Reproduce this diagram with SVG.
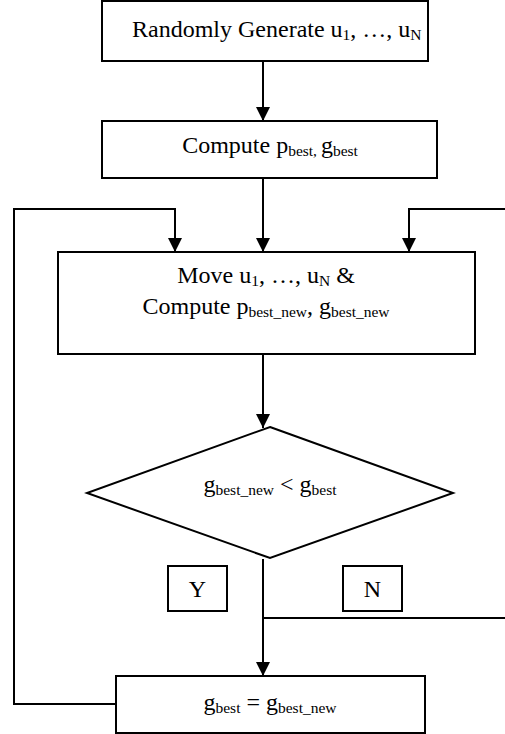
<svg xmlns="http://www.w3.org/2000/svg" width="505" height="734" viewBox="0 0 505 734">
<style>
.box{fill:#fff;stroke:#000;stroke-width:2}
.ln{fill:none;stroke:#000;stroke-width:2}
text{font-family:"Liberation Serif","Times New Roman",serif;font-size:24px;fill:#000}
.s{font-size:15.5px}
.m{text-anchor:middle}
</style>
<defs>
<marker id="ah" markerUnits="userSpaceOnUse" markerWidth="14" markerHeight="14" refX="14" refY="7" orient="auto">
<path d="M0,0 L14,7 L0,14 z" fill="#000"/>
</marker>
</defs>
<rect width="505" height="734" fill="#fff"/>
<g id="connectors">
<path class="ln" d="M263,62 V121" marker-end="url(#ah)"/>
<path class="ln" d="M263,178 V252" marker-end="url(#ah)"/>
<path class="ln" d="M116,704 H14 V209 H175 V252" marker-end="url(#ah)"/>
<path class="ln" d="M506,209 H409 V252" marker-end="url(#ah)"/>
<path class="ln" d="M263,354 V428" marker-end="url(#ah)"/>
<path class="ln" d="M263,559 V676" marker-end="url(#ah)"/>
<path class="ln" d="M263,618 H506"/>
</g>
<g id="node-generate">
<rect class="box" x="102" y="1" width="326" height="60"/>
<text x="132" y="37">Randomly Generate u<tspan class="s" dy="3">1</tspan><tspan dy="-3">, …, u</tspan><tspan class="s" dy="3">N</tspan></text>
</g>
<g id="node-compute">
<rect class="box" x="102" y="121" width="335" height="57"/>
<text class="m" x="270" y="153">Compute p<tspan class="s" dy="3">best, </tspan><tspan dy="-3">g</tspan><tspan class="s" dy="3">best</tspan></text>
</g>
<g id="node-move">
<rect class="box" x="58" y="252" width="417" height="102"/>
<text class="m" x="266" y="283">Move u<tspan class="s" dy="3">1</tspan><tspan dy="-3">, …, u</tspan><tspan class="s" dy="3">N</tspan><tspan dy="-3"> &amp;</tspan></text>
<text class="m" x="266" y="314">Compute p<tspan class="s" dy="3">best_new</tspan><tspan dy="-3">, g</tspan><tspan class="s" dy="3">best_new</tspan></text>
</g>
<g id="node-decision">
<polygon class="box" points="270,427 453,493 270,558 87,493"/>
<text class="m" x="270" y="492">g<tspan class="s" dy="3">best_new</tspan><tspan dy="-3"> &lt; g</tspan><tspan class="s" dy="3">best</tspan></text>
</g>
<g id="label-y">
<rect class="box" x="168" y="566" width="59" height="45"/>
<text class="m" x="197.5" y="597">Y</text>
</g>
<g id="label-n">
<rect class="box" x="343" y="566" width="59" height="45"/>
<text class="m" x="372.5" y="597">N</text>
</g>
<g id="node-update">
<rect class="box" x="116" y="676" width="309" height="57"/>
<text class="m" x="270" y="710">g<tspan class="s" dy="3">best</tspan><tspan dy="-3"> = g</tspan><tspan class="s" dy="3">best_new</tspan></text>
</g>
</svg>
